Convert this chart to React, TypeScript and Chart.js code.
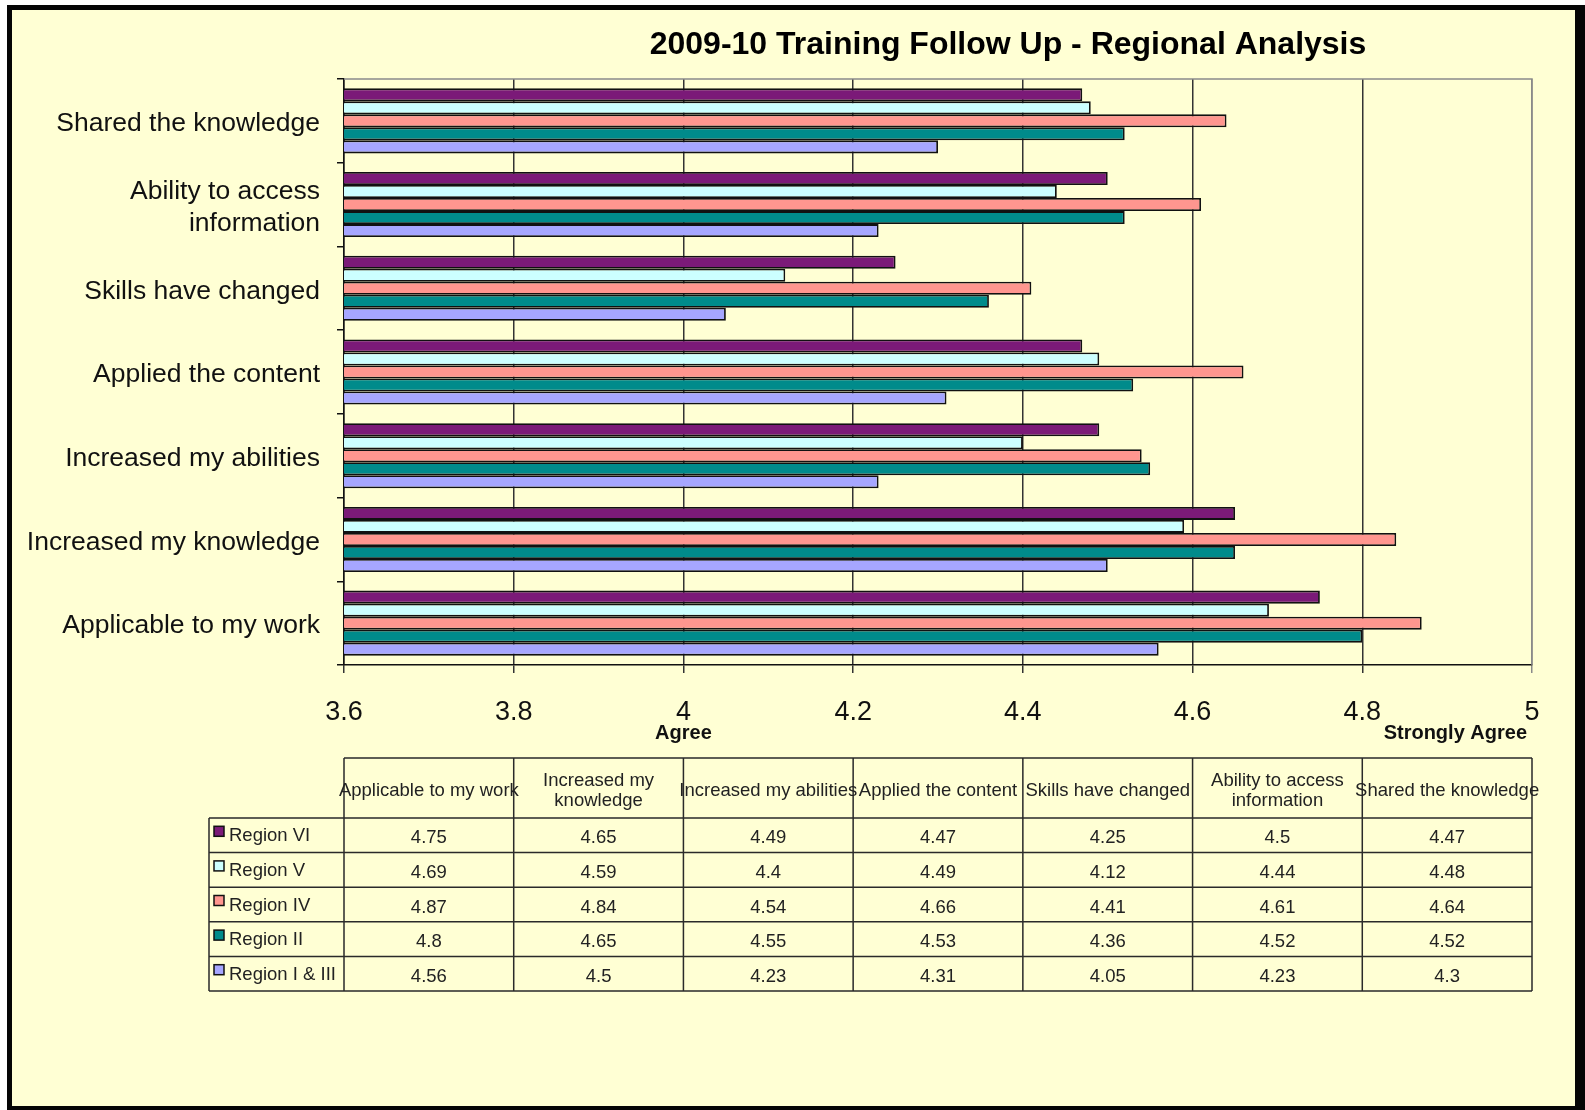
import React, { useEffect, useRef } from 'react';
import { Chart, registerables } from 'chart.js';

Chart.register(...registerables);

// ---------- data ----------
const chartTitle = '2009-10 Training Follow Up - Regional Analysis';
const categories = [
  'Applicable to my work',
  'Increased my knowledge',
  'Increased my abilities',
  'Applied the content',
  'Skills have changed',
  'Ability to access information',
  'Shared the knowledge',
];
const axisLabelLines = [
  ['Applicable to my work'],
  ['Increased my knowledge'],
  ['Increased my abilities'],
  ['Applied the content'],
  ['Skills have changed'],
  ['Ability to access', 'information'],
  ['Shared the knowledge'],
];
const tableHeaderLines = [
  ['Applicable to my work'],
  ['Increased my', 'knowledge'],
  ['Increased my abilities'],
  ['Applied the content'],
  ['Skills have changed'],
  ['Ability to access', 'information'],
  ['Shared the knowledge'],
];
const seriesNames = ['Region VI', 'Region V', 'Region IV', 'Region II', 'Region I & III'];
const regionVI = [4.75, 4.65, 4.49, 4.47, 4.25, 4.5, 4.47];
const regionV = [4.69, 4.59, 4.4, 4.49, 4.12, 4.44, 4.48];
const regionIV = [4.87, 4.84, 4.54, 4.66, 4.41, 4.61, 4.64];
const regionII = [4.8, 4.65, 4.55, 4.53, 4.36, 4.52, 4.52];
const regionIandIII = [4.56, 4.5, 4.23, 4.31, 4.05, 4.23, 4.3];
const seriesValues = [regionVI, regionV, regionIV, regionII, regionIandIII];
const seriesColors = ['#7B1A78', '#CCFFFF', '#FF968F', '#008B8B', '#A6A6FF'];
const xTicks = [3.6, 3.8, 4, 4.2, 4.4, 4.6, 4.8, 5];
const scaleNotes = [
  { value: 4, text: 'Agree', align: 'center' },
  { value: 5, text: 'Strongly Agree', align: 'right' },
];

// ---------- layout ----------
const W = 1585;
const H = 1110;
const PLOT = { left: 344, top: 79, right: 1532, bottom: 665 };
const FONT = '"Liberation Sans", Arial, Helvetica, sans-serif';
const BG = '#FFFFD4';

const framePlugin = {
  id: 'frameAndTable',
  beforeDraw(chart: any) {
    const ctx = chart.ctx;
    ctx.save();
    ctx.fillStyle = '#ffffff';
    ctx.fillRect(0, 0, W, H);
    ctx.fillStyle = '#050505';
    ctx.fillRect(7, 5, W - 7, H - 5);
    ctx.fillStyle = BG;
    ctx.fillRect(12, 10, 1575 - 12, 1106 - 10);
    ctx.fillStyle = '#000';
    ctx.font = `bold 32px ${FONT}`;
    ctx.textAlign = 'center';
    ctx.textBaseline = 'middle';
    ctx.fillText(chartTitle, 1008, 45);
    ctx.restore();
  },
  beforeDatasetsDraw(chart: any) {
    const ctx = chart.ctx;
    const a = chart.chartArea;
    ctx.save();
    ctx.strokeStyle = '#8a8a8a';
    ctx.lineWidth = 1.5;
    ctx.beginPath();
    ctx.moveTo(a.left, a.top);
    ctx.lineTo(a.right, a.top);
    ctx.lineTo(a.right, a.bottom);
    ctx.stroke();
    ctx.restore();
  },
  afterDraw(chart: any) {
    const ctx = chart.ctx;
    const xs = chart.scales.x;
    ctx.save();
    // scale notes
    ctx.fillStyle = '#111';
    ctx.font = `bold 20px ${FONT}`;
    ctx.textBaseline = 'middle';
    scaleNotes.forEach((n) => {
      const px = xs.getPixelForValue(n.value);
      if (n.align === 'center') {
        ctx.textAlign = 'center';
        ctx.fillText(n.text, px, 733);
      } else {
        ctx.textAlign = 'right';
        ctx.fillText(n.text, px - 5, 733);
      }
    });

    // data table
    const colX = xTicks.map((v) => xs.getPixelForValue(v));
    const legendLeft = 209;
    const headTop = 758;
    const headBottom = 818;
    const rowH = 34.6;
    const tableBottom = headBottom + rowH * seriesNames.length;
    const lastX = colX[colX.length - 1];

    ctx.strokeStyle = '#2a2a2a';
    ctx.lineWidth = 1.5;
    ctx.beginPath();
    ctx.moveTo(colX[0], headTop);
    ctx.lineTo(lastX, headTop);
    for (let r = 0; r <= seriesNames.length; r++) {
      const y = headBottom + r * rowH;
      ctx.moveTo(legendLeft, y);
      ctx.lineTo(lastX, y);
    }
    ctx.moveTo(legendLeft, headBottom);
    ctx.lineTo(legendLeft, tableBottom);
    colX.forEach((x) => {
      ctx.moveTo(x, headTop);
      ctx.lineTo(x, tableBottom);
    });
    ctx.stroke();

    ctx.fillStyle = '#222';
    ctx.font = `18.5px ${FONT}`;
    ctx.textAlign = 'center';
    ctx.textBaseline = 'middle';
    const headMid = (headTop + headBottom) / 2 + 2.5;
    tableHeaderLines.forEach((lines, c) => {
      const cx = (colX[c] + colX[c + 1]) / 2;
      const lh = 20;
      const start = headMid - ((lines.length - 1) * lh) / 2;
      lines.forEach((ln, i) => ctx.fillText(ln, cx, start + i * lh));
    });

    seriesNames.forEach((name, r) => {
      const cy = headBottom + r * rowH + rowH / 2 + 3;
      // legend key
      ctx.fillStyle = seriesColors[r];
      ctx.fillRect(214, cy - 12, 10, 10);
      ctx.strokeStyle = '#111';
      ctx.lineWidth = 1.5;
      ctx.strokeRect(214, cy - 12, 10, 10);
      ctx.fillStyle = '#222';
      ctx.textAlign = 'left';
      ctx.fillText(name, 229, cy - 2);
      ctx.textAlign = 'center';
      seriesValues[r].forEach((v, c) => {
        const cx = (colX[c] + colX[c + 1]) / 2;
        ctx.fillText(String(v), cx, cy);
      });
    });
    ctx.restore();
  },
};

export default function App() {
  const ref = useRef<HTMLCanvasElement | null>(null);

  useEffect(() => {
    if (!ref.current) return;
    const chart = new Chart(ref.current, {
      type: 'bar',
      data: {
        labels: axisLabelLines as any,
        datasets: seriesNames.map((name, i) => ({
          label: name,
          data: seriesValues[i],
          backgroundColor: seriesColors[i],
          borderColor: '#111',
          borderWidth: 1.8,
          borderSkipped: 'start',
          barPercentage: 1,
          categoryPercentage: 0.777,
        })),
      },
      options: {
        indexAxis: 'y',
        responsive: false,
        animation: false,
        devicePixelRatio: 1,
        layout: { padding: { left: 0, top: PLOT.top, right: W - PLOT.right, bottom: 0 } },
        plugins: {
          legend: { display: false },
          tooltip: { enabled: false },
          title: { display: false },
        },
        scales: {
          y: {
            type: 'category',
            reverse: true,
            afterFit: (s: any) => {
              s.width = PLOT.left;
            },
            grid: {
              drawOnChartArea: false,
              drawTicks: true,
              tickLength: 7,
              color: '#111',
              lineWidth: 1.5,
              offset: true,
            },
            border: { display: true, color: '#111', width: 1.5 },
            ticks: {
              font: { family: FONT, size: 26.5, lineHeight: 1.2 },
              color: '#111',
              padding: 17,
              labelOffset: 3,
              autoSkip: false,
            },
          },
          x: {
            type: 'linear',
            min: xTicks[0],
            max: xTicks[xTicks.length - 1],
            afterBuildTicks: (s: any) => {
              s.ticks = xTicks.map((v) => ({ value: v }));
            },
            afterFit: (s: any) => {
              s.height = H - PLOT.bottom;
            },
            grid: {
              color: (c: any) => (c.tick && c.tick.value === 5 ? '#8a8a8a' : '#333'),
              lineWidth: 1.5,
              tickLength: 8,
              drawTicks: true,
            },
            border: { display: true, color: '#111', width: 1.5 },
            ticks: {
              font: { family: FONT, size: 27 },
              color: '#111',
              padding: 23,
              maxRotation: 0,
              autoSkip: false,
              callback: (v: any) => String(v),
            },
          },
        },
      } as any,
      plugins: [framePlugin],
    });
    return () => chart.destroy();
  }, []);

  return (
    <div style={{ position: 'absolute', left: 0, top: 0, width: W, height: H }}>
      <canvas ref={ref} width={W} height={H} style={{ display: 'block', width: W, height: H }} />
    </div>
  );
}
